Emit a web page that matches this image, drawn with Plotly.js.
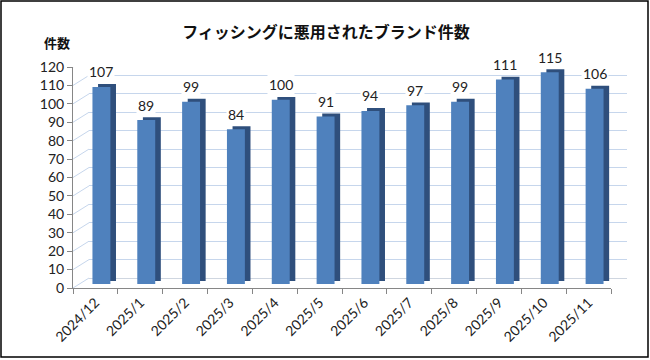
<!DOCTYPE html>
<html>
<head>
<meta charset="utf-8">
<script src="https://cdn.plot.ly/plotly-3.0.1.min.js"></script>
<style>html,body{margin:0;padding:0;background:#fff;}#chart{width:650px;height:360px;}</style>
</head>
<body>
<div id="chart"></div>
<script>
// ---- data ----
const months = ["2024/12","2025/1","2025/2","2025/3","2025/4","2025/5","2025/6","2025/7","2025/8","2025/9","2025/10","2025/11"];
const counts = [107, 89, 99, 84, 100, 91, 94, 97, 99, 111, 115, 106];
const yTicks = [0,10,20,30,40,50,60,70,80,90,100,110,120];
const chartTitle = "フィッシングに悪用されたブランド件数";
const yTitle = "件数";

// ---- styles ----
const W = 650, H = 360;
const gridCol = "#c6d6ec";
const axisCol = "#868686";
const numFont = "Lato, 'Liberation Sans', sans-serif";
const jpFont = "'Noto Sans CJK JP', 'Noto Sans CJK SC', sans-serif";

const traces = [
  // front axes carrier (invisible)
  {type:"scatter", x:months, y:counts, xaxis:"x", yaxis:"y", mode:"markers",
   marker:{opacity:0}, hoverinfo:"skip", showlegend:false},
  // back wall carrier (invisible)
  {type:"scatter", x:months, y:counts, xaxis:"x2", yaxis:"y2", mode:"markers",
   marker:{opacity:0}, hoverinfo:"skip", showlegend:false},
  // bar side/top face (dark)
  {type:"bar", x:months, y:counts, base:1.6, xaxis:"x3", yaxis:"y3",
   width:0.4, offset:-0.075, marker:{color:"#2f4f7c", line:{width:0}}, showlegend:false, hoverinfo:"skip"},
  // bar front face
  {type:"bar", x:months, y:counts, xaxis:"x3", yaxis:"y3",
   width:0.4, offset:-0.2, marker:{color:"#4f81bd", line:{width:0}}, showlegend:false, hoverinfo:"skip"}
];

const annotations = counts.map((v,i)=>({
  xref:"x3", yref:"y3", x:months[i], y:v, yanchor:"middle", yshift:15,
  text:String(v), showarrow:false, bgcolor:"#ffffff", borderpad:1,
  font:{family:numFont, size:14, color:"#222"}
}));
annotations.push({
  xref:"paper", yref:"paper", x:57/W, y:1-42/H, xanchor:"center", yanchor:"middle",
  text:"<b>"+yTitle+"</b>", showarrow:false, font:{family:jpFont, size:13, color:"#111"}
});

const shapes = yTicks.map(v=>({
  type:"line", xref:"x", yref:"y", xsizemode:"pixel", ysizemode:"pixel",
  xanchor:-0.5, yanchor:v, x0:0, x1:16, y0:0, y1:10,
  line:{color:gridCol, width:1}
}));
shapes.push({
  type:"line", xref:"x", yref:"y", xsizemode:"pixel", ysizemode:"pixel",
  xanchor:11.5, yanchor:0, x0:0, x1:16, y0:0, y1:10,
  line:{color:"#c8c8c8", width:1}
});
shapes.push({
  type:"rect", xref:"paper", yref:"paper", x0:1/W, x1:648/W, y0:1-357/H, y1:1-1/H,
  line:{color:"#000", width:1.5}, layer:"above"
});

const catRange = [-0.5, 11.5];
const layout = {
  width:W, height:H,
  margin:{l:0, r:0, t:0, b:0},
  paper_bgcolor:"#fff", plot_bgcolor:"rgba(0,0,0,0)",
  barmode:"overlay",
  title:{text:"<b>"+chartTitle+"</b>", x:326/W, xanchor:"center", y:1-32/H, yanchor:"middle",
         font:{family:jpFont, size:16, color:"#111"}},
  xaxis:{domain:[73/W, 611/W], anchor:"y", type:"category", categoryarray:months, range:catRange,
         tickangle:-45, ticks:"outside", tickson:"boundaries", ticklen:5, tickcolor:axisCol,
         showline:true, linecolor:axisCol, linewidth:1, showgrid:false, zeroline:false,
         tickfont:{family:numFont, size:14, color:"#222"}},
  yaxis:{domain:[1-288/H, 1-67/H], anchor:"x", range:[0,120], tickvals:yTicks,
         ticks:"outside", ticklen:5, tickcolor:axisCol, showline:true, linecolor:axisCol, linewidth:1,
         showgrid:false, zeroline:false, tickfont:{family:numFont, size:14, color:"#222"}},
  xaxis2:{domain:[89/W, 627/W], anchor:"y2", type:"category", categoryarray:months, range:catRange,
          visible:false},
  yaxis2:{domain:[1-278/H, 1-57/H], anchor:"x2", range:[0,120], tickvals:yTicks,
          showgrid:true, gridcolor:gridCol, gridwidth:1, zeroline:true, zerolinecolor:"#cfd6e0",
          showticklabels:false, ticks:"", showline:false},
  xaxis3:{domain:[79/W, 617/W], anchor:"y3", type:"category", categoryarray:months, range:catRange,
          visible:false},
  yaxis3:{domain:[1-284/H, 1-63/H], anchor:"x3", range:[0,120], visible:false},
  annotations:annotations,
  shapes:shapes
};

Plotly.newPlot("chart", traces, layout, {staticPlot:true, displayModeBar:false});
</script>
</body>
</html>
